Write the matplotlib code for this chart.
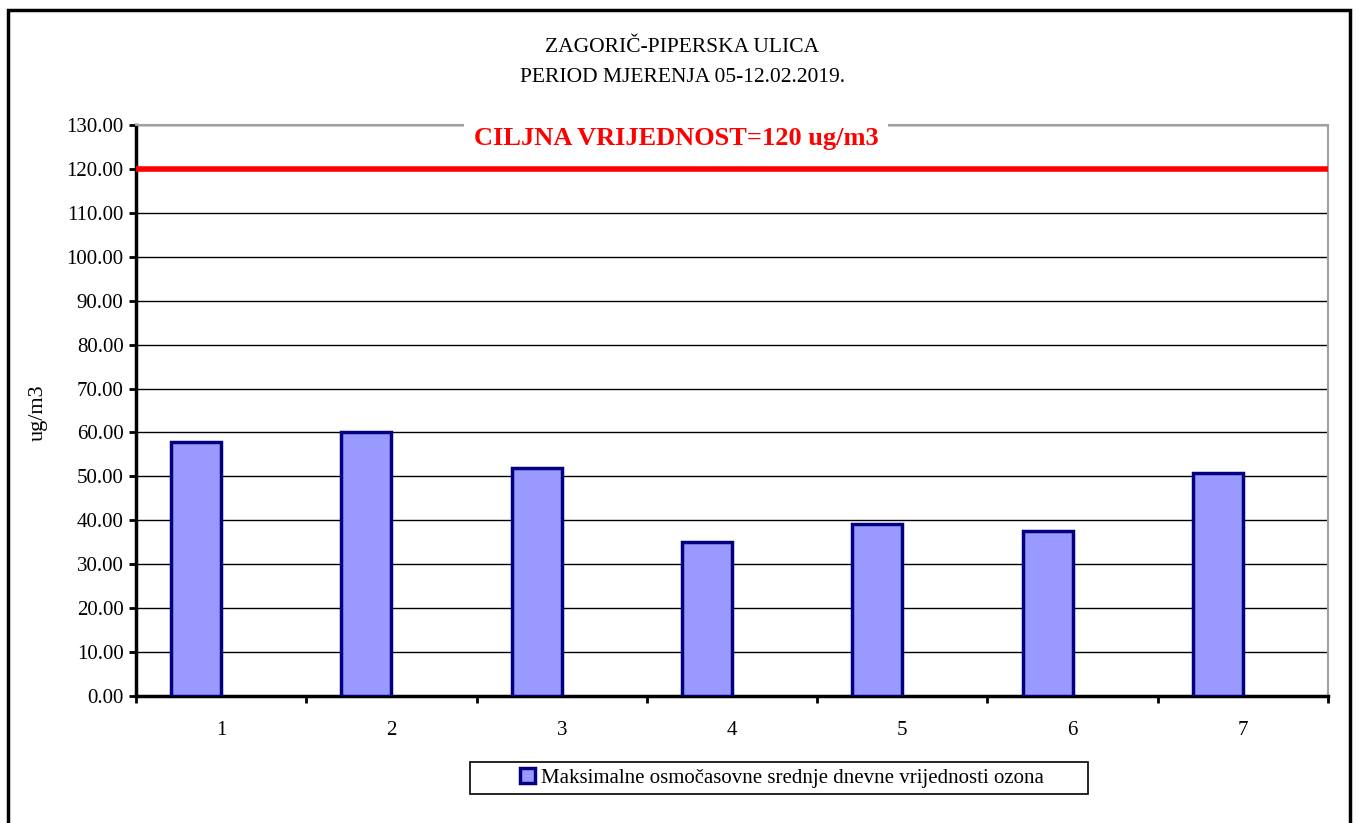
import matplotlib.pyplot as plt
from matplotlib.patches import Rectangle
import numpy as np

plt.rcParams["font.family"] = ["Liberation Serif", "DejaVu Serif"]

days = ["1", "2", "3", "4", "5", "6", "7"]
ozone_max8h = [57.8, 60.0, 51.8, 35.0, 39.1, 37.5, 50.8]
target_value = 120
y_ticks = np.arange(0, 131, 10)

W, H = 1358, 823
fig = plt.figure(figsize=(W / 100, H / 100), dpi=100)
# outer chart frame
fig.patches.append(Rectangle((0.006, -0.01), 0.988, 0.998, transform=fig.transFigure,
                             fill=False, edgecolor="black", linewidth=2.5))

ax = fig.add_axes([136 / W, 1 - 696 / H, (1328 - 136) / W, (696 - 125) / H])

x = np.arange(1, len(days) + 1)
# bars sit just left of the category centre (second series slot is empty)
ax.bar(x, ozone_max8h, width=-0.294, align="edge", color="#9999ff",
       edgecolor="#000080", linewidth=2.5, zorder=3,
       label="Maksimalne osmočasovne srednje dnevne vrijednosti ozona")

ax.axhline(target_value, color="red", linewidth=4, zorder=4)
ax.text(0.453, 0.976, "CILJNA VRIJEDNOST=120 ug/m3", transform=ax.transAxes,
        ha="center", va="center", color="red", fontsize=19, fontweight="bold",
        bbox=dict(facecolor="white", edgecolor="none", pad=7), zorder=5,
        clip_on=False)

ax.set_xlim(0.5, len(days) + 0.5)
ax.set_ylim(0, 130)
ax.set_yticks(y_ticks)
ax.set_yticklabels([f"{v:.2f}" for v in y_ticks], fontsize=15)
ax.grid(axis="y", color="black", linewidth=1, zorder=1)

ax.set_xticks(x)
ax.set_xticklabels(days, fontsize=15)
ax.set_xticks(np.arange(0.5, len(days) + 1, 1), minor=True)
ax.tick_params(axis="x", which="major", length=0, pad=18)
ax.tick_params(axis="x", which="minor", length=5, width=2, direction="out")
ax.tick_params(axis="y", length=5, width=2, direction="out", pad=4)

for side in ("left", "bottom"):
    ax.spines[side].set_linewidth(2.5)
    ax.spines[side].set_color("black")
for side in ("top", "right"):
    ax.spines[side].set_linewidth(1.5)
    ax.spines[side].set_color("#a0a0a0")

ax.set_ylabel("ug/m3", fontsize=16)
ax.yaxis.set_label_coords(-0.074, 0.497)

fig.text(682 / W, 1 - 47 / H, "ZAGORIČ-PIPERSKA ULICA", ha="center", va="center", fontsize=15.5)
fig.text(683 / W, 1 - 77 / H, "PERIOD MJERENJA 05-12.02.2019.", ha="center", va="center", fontsize=15.5)

# legend box drawn separately so it can be wider than its content
fig.patches.append(Rectangle((470 / W, 1 - 794 / H), 618 / W, 32 / H,
                             transform=fig.transFigure, fill=False,
                             edgecolor="black", linewidth=1.2))
ax.legend(loc="center", bbox_to_anchor=(782 / W, 1 - 778 / H),
          bbox_transform=fig.transFigure, fontsize=15, frameon=False,
          handlelength=0.7, handleheight=0.7, handletextpad=0.3,
          borderpad=0.35, borderaxespad=0)

fig.savefig("out.png", dpi=100)
